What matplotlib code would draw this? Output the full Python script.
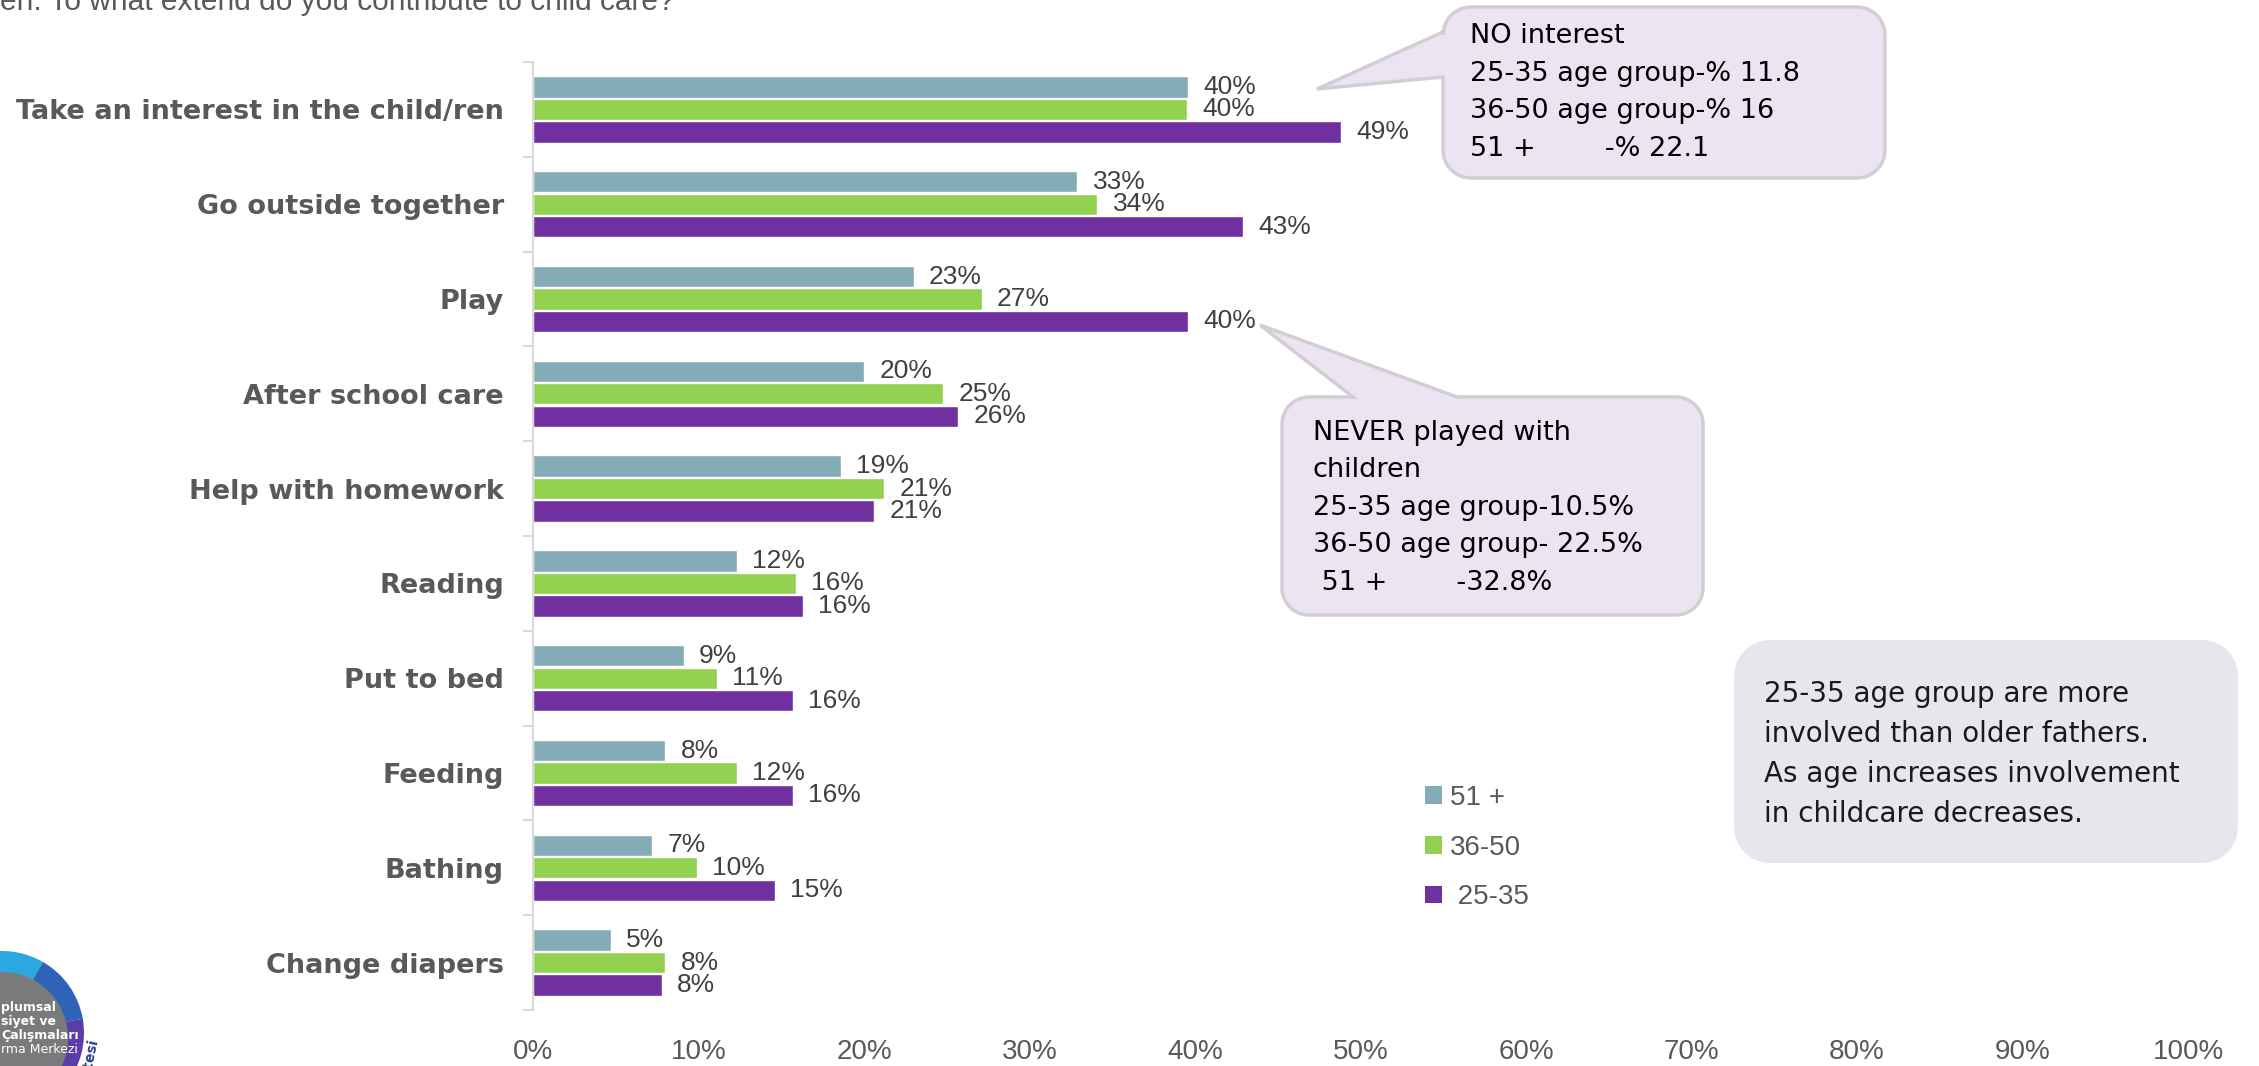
import numpy as np
import matplotlib
matplotlib.use("Agg")
import matplotlib.pyplot as plt
from matplotlib.patches import Polygon, Patch, Wedge, Circle

# data (percent of fathers)
categories = ["Take an interest in the child/ren", "Go outside together", "Play",
              "After school care", "Help with homework", "Reading", "Put to bed",
              "Feeding", "Bathing", "Change diapers"]
age_51_plus = [39.6, 32.9, 23.0, 20.0, 18.6, 12.3, 9.1, 8.0, 7.2, 4.7]
age_36_50 = [39.5, 34.1, 27.1, 24.8, 21.2, 15.9, 11.1, 12.3, 9.9, 8.0]
age_25_35 = [48.8, 42.9, 39.6, 25.7, 20.6, 16.3, 15.7, 15.7, 14.6, 7.8]
series_names = ["51 +", "36-50", " 25-35"]
series_colors = ["#84ACB6", "#92D050", "#7030A0"]
x_ticks = [0, 10, 20, 30, 40, 50, 60, 70, 80, 90, 100]

W, H = 2259, 1066
num_font = "Liberation Sans"

fig = plt.figure(figsize=(W / 100, H / 100), dpi=100)
ax = fig.add_axes([533 / W, 1 - 1010 / H, (2188 - 533) / W, (1010 - 62) / H])

y = np.arange(len(categories))
offsets = [-0.237, 0.0, 0.237]
for vals, name, color, off in zip([age_51_plus, age_36_50, age_25_35],
                                  series_names, series_colors, offsets):
    bars = ax.barh(y + off, vals, height=0.225, color=color,
                   edgecolor="white", linewidth=1.0, label=name)
    ax.bar_label(bars, labels=[f"{v:.0f}%" for v in vals], padding=11,
                 fontsize=19, color="#404040", family=num_font)

ax.set_xlim(0, 100)
ax.set_ylim(len(categories) - 0.5, -0.5)
ax.set_yticks(y)
ax.set_yticklabels(categories, fontsize=19.5, fontweight="bold", color="#595959")
ax.set_yticks(np.arange(len(categories) + 1) - 0.5, minor=True)
ax.tick_params(axis="y", which="major", length=0, pad=21)
ax.tick_params(axis="y", which="minor", length=7, width=1.5, color="#D9D9D9")
ax.set_xticks(x_ticks)
ax.set_xticklabels([f"{t}%" for t in x_ticks], fontsize=20, color="#595959",
                   family=num_font)
ax.tick_params(axis="x", length=0, pad=21)
for side in ["top", "right", "bottom"]:
    ax.spines[side].set_visible(False)
ax.spines["left"].set_color("#D9D9D9")
ax.spines["left"].set_linewidth(1.5)

# legend
handles = [Patch(facecolor=c, edgecolor="none") for c in series_colors]
fig.legend(handles, series_names, loc="upper left",
           bbox_to_anchor=(1425 / W, 1 - 785 / H), frameon=False,
           prop={"family": num_font, "size": 20}, labelcolor="#595959",
           handlelength=0.6, handleheight=0.6, handletextpad=0.3,
           labelspacing=0.85, borderpad=0, borderaxespad=0)

# overlay in pixel coordinates for the callouts and the logo
ov = fig.add_axes([0, 0, 1, 1], facecolor="none")
ov.set_xlim(0, W)
ov.set_ylim(H, 0)
ov.axis("off")


def bubble(x0, y0, x1, y1, r, side=None, a=None, b=None, tip=None):
    pts = []

    def arc(cx, cy, a0, a1):
        for t in np.radians(np.linspace(a0, a1, 14)):
            pts.append((cx + r * np.cos(t), cy + r * np.sin(t)))

    arc(x0 + r, y0 + r, 180, 270)
    if side == "top":
        pts.extend([(a, y0), tip, (b, y0)])
    arc(x1 - r, y0 + r, 270, 360)
    arc(x1 - r, y1 - r, 0, 90)
    arc(x0 + r, y1 - r, 90, 180)
    if side == "left":
        pts.extend([(x0, a), tip, (x0, b)])
    return pts


lav = "#ECE4F2"
edge = "#D2CED4"
ov.add_patch(Polygon(bubble(1443, 7, 1885, 178, 28, "left", 77, 32, (1317, 89)),
                     closed=True, facecolor=lav, edgecolor=edge, linewidth=2.5))
ov.text(1470, 23, "NO interest\n25-35 age group-% 11.8\n36-50 age group-% 16\n51 +        -% 22.1",
        fontsize=19.5, color="black", va="top", ha="left", linespacing=1.58)

ov.add_patch(Polygon(bubble(1282, 397, 1703, 615, 27, "top", 1353, 1457, (1260, 325)),
                     closed=True, facecolor=lav, edgecolor=edge, linewidth=2.5))
ov.text(1313, 420, "NEVER played with\nchildren\n25-35 age group-10.5%\n36-50 age group- 22.5%\n 51 +        -32.8%",
        fontsize=19.5, color="black", va="top", ha="left", linespacing=1.57)

ov.add_patch(Polygon(bubble(1734, 640, 2238, 863, 36), closed=True,
                     facecolor="#E9E5EC", edgecolor="none"))
ov.text(1764, 680, "25-35 age group are more\ninvolved than older fathers.\nAs age increases involvement\nin childcare decreases.",
        fontsize=20, color="#1a1a1a", va="top", ha="left", linespacing=1.55)

# question text cut off at the top
ov.text(0, 10, "en. To what extend do you contribute to child care?", fontsize=21.5,
        color="#595959", family=num_font, va="baseline", ha="left")

# partial logo in the lower left corner
ring = [("#3EC7B0", 200, 255), ("#2BA8E0", 255, 300), ("#2F62B9", 300, 350),
        ("#5A3EA6", 350, 40), ("#B0399E", 40, 100)]
for c, t0, t1 in ring:
    ov.add_patch(Wedge((2, 1033), 82, t0, t1, facecolor=c, edgecolor="none"))
ov.add_patch(Circle((2, 1038), 66, facecolor="#7A7A7C", edgecolor="none"))
for txt, yy, w in [("plumsal", 1011, "bold"), ("siyet ve", 1025, "bold"),
                   ("Çalışmaları", 1039, "bold"), ("rma Merkezi", 1053, "normal")]:
    ov.text(1, yy, txt, fontsize=9, color="white", fontweight=w,
            va="baseline", ha="left")
ov.text(90, 1055, "itesi", fontsize=10, color="#2B3F8F", fontweight="bold",
        rotation=78, ha="center", va="center")

fig.savefig("out.png", dpi=100)
